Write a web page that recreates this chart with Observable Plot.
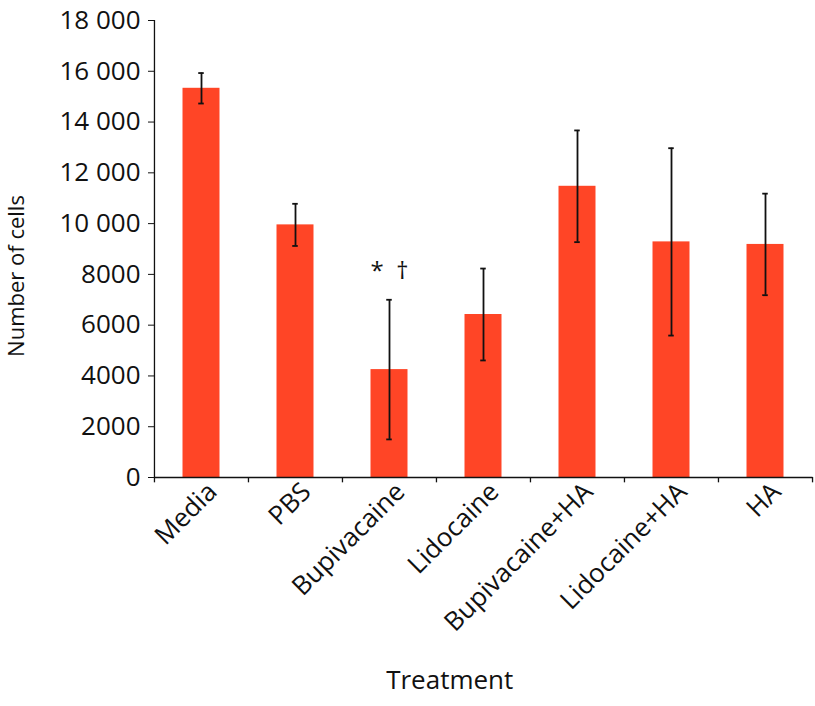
<!DOCTYPE html>
<html>
<head>
<meta charset="utf-8">
<script src="https://cdn.jsdelivr.net/npm/d3@7"></script>
<script src="https://cdn.jsdelivr.net/npm/@observablehq/plot@0.6"></script>
<style>
  html, body { margin: 0; padding: 0; background: #fff; }
</style>
</head>
<body>
<div id="chart"></div>
<script>
const categories = ["Media", "PBS", "Bupivacaine", "Lidocaine", "Bupivacaine+HA", "Lidocaine+HA", "HA"];
const means = [15330, 9950, 4250, 6420, 11470, 9280, 9180];
const errors = [600, 830, 2750, 1810, 2200, 3690, 2000];
const yTicks = [0, 2000, 4000, 6000, 8000, 10000, 12000, 14000, 16000, 18000];
const annotationCategory = ["Bupivacaine"];
const annotationText = ["* \u00a0\u2020"];
const yLabel = "Number of cells";
const xLabel = "Treatment";

const data = categories.map((c, i) => ({category: c, mean: means[i], lo: means[i] - errors[i], hi: means[i] + errors[i]}));
const annotations = annotationCategory.map((c, i) => {
  const d = data.find(e => e.category === c);
  return {category: c, text: annotationText[i], y: d.hi};
});
const fmt = v => v >= 10000 ? d3.format(",")(v).replace(/,/g, " ") : String(v);

const W = 815, H = 706;
const mL = 154, mR = 2.5, mT = 20, mB = 229;
const bw = (W - mL - mR) / categories.length;
const capHalf = 2.8;

const chart = Plot.plot({
  width: W,
  height: H,
  marginLeft: mL,
  marginRight: mR,
  marginTop: mT,
  marginBottom: mB,
  style: {fontFamily: "'Open Sans', sans-serif", fontSize: "26px", color: "#111", background: "#fff"},
  x: {domain: categories, padding: 0, paddingInner: 0, paddingOuter: 0},
  y: {domain: [0, 18000]},
  marks: [
    Plot.barY(data, {x: "category", y: "mean", fill: "#ff4526", insetLeft: bw * 0.303, insetRight: bw * 0.303}),
    Plot.ruleX(data, {x: "category", y1: "lo", y2: "hi", stroke: "#111", strokeWidth: 1.8}),
    Plot.tickY(data, {x: "category", y: "lo", stroke: "#111", strokeWidth: 1.8, insetLeft: bw / 2 - capHalf, insetRight: bw / 2 - capHalf}),
    Plot.tickY(data, {x: "category", y: "hi", stroke: "#111", strokeWidth: 1.8, insetLeft: bw / 2 - capHalf, insetRight: bw / 2 - capHalf}),
    Plot.text(annotations, {x: "category", y: "y", text: "text", dy: -28, fontSize: 24, fill: "#111"}),
    // axis lines
    Plot.ruleY([0], {stroke: "#111", strokeWidth: 1.3}),
    Plot.ruleX([categories[0]], {y1: 0, y2: 18000, dx: -bw / 2, stroke: "#111", strokeWidth: 1.3}),
    // x ticks at category boundaries
    Plot.ruleX(categories, {y1: 0, y2: -210, dx: -bw / 2, stroke: "#111", strokeWidth: 1.3}),
    Plot.ruleX([categories[categories.length - 1]], {y1: 0, y2: -210, dx: bw / 2, stroke: "#111", strokeWidth: 1.3}),
    Plot.axisY({ticks: yTicks, tickFormat: fmt, tickSize: 6, tickPadding: 8, fontSize: 26, label: null}),
    Plot.axisX({tickRotate: -45, tickSize: 0, tickPadding: 10, dx: 11, fontSize: 26, label: null}),
    Plot.text([yLabel], {frameAnchor: "left", textAnchor: "middle", rotate: -90, dx: -138, dy: 27, fontSize: 22, fill: "#111"}),
    Plot.text([xLabel], {frameAnchor: "bottom", dy: 211, dx: -34, fontSize: 26, fill: "#111"})
  ]
});
document.getElementById("chart").appendChild(chart);
</script>
</body>
</html>
